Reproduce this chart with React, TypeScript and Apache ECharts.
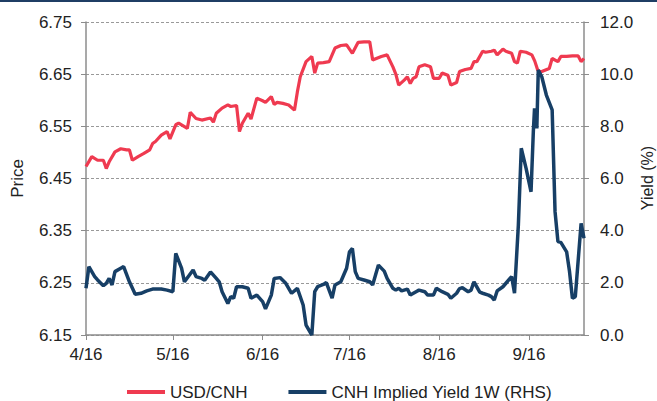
import React, { useEffect, useRef } from "react";
import * as echarts from "echarts";

const usdDates = [
  "2016-04-01", "2016-04-03", "2016-04-05", "2016-04-07", "2016-04-08", "2016-04-09", "2016-04-11", "2016-04-13",
  "2016-04-15", "2016-04-16", "2016-04-17", "2016-04-19", "2016-04-21", "2016-04-23", "2016-04-24", "2016-04-25",
  "2016-04-27", "2016-04-29", "2016-04-30", "2016-05-02", "2016-05-03", "2016-05-06", "2016-05-07", "2016-05-09",
  "2016-05-11", "2016-05-14", "2016-05-15", "2016-05-16", "2016-05-18", "2016-05-20", "2016-05-21", "2016-05-23",
  "2016-05-24", "2016-05-25", "2016-05-27", "2016-05-28", "2016-05-30", "2016-06-01", "2016-06-02", "2016-06-04",
  "2016-06-05", "2016-06-06", "2016-06-08", "2016-06-10", "2016-06-12", "2016-06-13", "2016-06-14", "2016-06-16",
  "2016-06-18", "2016-06-19", "2016-06-20", "2016-06-22", "2016-06-24", "2016-06-26", "2016-06-28", "2016-06-30",
  "2016-07-02", "2016-07-04", "2016-07-06", "2016-07-08", "2016-07-09", "2016-07-12", "2016-07-14", "2016-07-16",
  "2016-07-17", "2016-07-18", "2016-07-20", "2016-07-21", "2016-07-22", "2016-07-23", "2016-07-24", "2016-07-25",
  "2016-07-27", "2016-07-29", "2016-07-30", "2016-08-01", "2016-08-02", "2016-08-04", "2016-08-05", "2016-08-07",
  "2016-08-08", "2016-08-10", "2016-08-12", "2016-08-13", "2016-08-14", "2016-08-16", "2016-08-17", "2016-08-19",
  "2016-08-20", "2016-08-21", "2016-08-23", "2016-08-24", "2016-08-26", "2016-08-27", "2016-08-28", "2016-08-29",
  "2016-08-31", "2016-09-02", "2016-09-03", "2016-09-04", "2016-09-05", "2016-09-08", "2016-09-09", "2016-09-11",
  "2016-09-12", "2016-09-14", "2016-09-16", "2016-09-18", "2016-09-19", "2016-09-20",
];
const usdValues = [
  6.473, 6.492, 6.485, 6.485, 6.469, 6.482, 6.501, 6.507,
  6.505, 6.505, 6.485, 6.492, 6.498, 6.505, 6.517, 6.521,
  6.533, 6.540, 6.526, 6.553, 6.556, 6.546, 6.577, 6.565,
  6.562, 6.566, 6.558, 6.575, 6.585, 6.591, 6.588, 6.590,
  6.540, 6.556, 6.575, 6.564, 6.604, 6.599, 6.596, 6.607,
  6.592, 6.596, 6.594, 6.591, 6.581, 6.616, 6.645, 6.674,
  6.684, 6.652, 6.671, 6.672, 6.674, 6.700, 6.705, 6.706,
  6.690, 6.711, 6.712, 6.712, 6.677, 6.684, 6.687, 6.664,
  6.650, 6.629, 6.639, 6.645, 6.632, 6.642, 6.645, 6.664,
  6.668, 6.664, 6.642, 6.642, 6.652, 6.648, 6.629, 6.634,
  6.655, 6.659, 6.661, 6.674, 6.674, 6.694, 6.692, 6.694,
  6.696, 6.687, 6.698, 6.694, 6.690, 6.674, 6.671, 6.694,
  6.692, 6.687, 6.675, 6.658, 6.654, 6.661, 6.680, 6.674,
  6.684, 6.684, 6.685, 6.685, 6.674, 6.680,
];

const yieldDates = [
  "2016-04-01", "2016-04-02", "2016-04-04", "2016-04-05", "2016-04-07", "2016-04-08", "2016-04-09", "2016-04-10",
  "2016-04-11", "2016-04-13", "2016-04-14", "2016-04-16", "2016-04-18", "2016-04-20", "2016-04-22", "2016-04-24",
  "2016-04-27", "2016-04-29", "2016-05-01", "2016-05-02", "2016-05-04", "2016-05-05", "2016-05-08", "2016-05-09",
  "2016-05-11", "2016-05-12", "2016-05-14", "2016-05-16", "2016-05-17", "2016-05-18", "2016-05-20", "2016-05-21",
  "2016-05-22", "2016-05-23", "2016-05-25", "2016-05-27", "2016-05-28", "2016-05-30", "2016-06-01", "2016-06-02",
  "2016-06-04", "2016-06-05", "2016-06-07", "2016-06-09", "2016-06-11", "2016-06-13", "2016-06-15", "2016-06-16",
  "2016-06-18", "2016-06-19", "2016-06-20", "2016-06-22", "2016-06-23", "2016-06-25", "2016-06-26", "2016-06-28",
  "2016-06-29", "2016-06-30", "2016-07-01", "2016-07-02", "2016-07-03", "2016-07-04", "2016-07-06", "2016-07-08",
  "2016-07-09", "2016-07-10", "2016-07-11", "2016-07-13", "2016-07-14", "2016-07-16", "2016-07-17", "2016-07-18",
  "2016-07-19", "2016-07-21", "2016-07-22", "2016-07-24", "2016-07-25", "2016-07-27", "2016-07-28", "2016-07-30",
  "2016-07-31", "2016-08-02", "2016-08-04", "2016-08-05", "2016-08-07", "2016-08-08", "2016-08-09", "2016-08-11",
  "2016-08-12", "2016-08-13", "2016-08-15", "2016-08-16", "2016-08-18", "2016-08-19", "2016-08-20", "2016-08-21",
  "2016-08-23", "2016-08-25", "2016-08-26", "2016-08-27", "2016-08-28 08:00", "2016-08-29 08:00", "2016-08-31",
  "2016-09-01 17:00", "2016-09-02 12:00", "2016-09-02 22:00", "2016-09-03 17:00", "2016-09-04 05:00",
  "2016-09-05 10:00", "2016-09-07", "2016-09-09", "2016-09-10", "2016-09-11", "2016-09-12", "2016-09-14",
  "2016-09-15", "2016-09-16", "2016-09-17", "2016-09-19", "2016-09-20",
];
const yieldValues = [
  1.79, 2.62, 2.24, 2.11, 1.89, 1.98, 2.17, 1.92,
  2.43, 2.56, 2.62, 2.04, 1.56, 1.60, 1.69, 1.76,
  1.76, 1.72, 1.66, 3.13, 2.56, 2.04, 2.49, 2.24,
  2.17, 2.10, 2.42, 2.17, 2.04, 1.66, 1.21, 1.47,
  1.41, 1.85, 1.85, 1.79, 1.41, 1.53, 1.28, 1.00,
  1.53, 2.17, 2.20, 1.98, 1.60, 1.79, 1.15, 0.38,
  0.0, 1.66, 1.85, 1.94, 2.01, 1.41, 1.92, 2.04,
  2.30, 2.56, 3.19, 3.32, 2.43, 2.17, 2.11, 2.04,
  1.92, 2.30, 2.68, 2.45, 2.17, 1.79, 1.72, 1.79,
  1.69, 1.76, 1.53, 1.66, 1.72, 1.66, 1.53, 1.53,
  1.79, 1.66, 1.56, 1.41, 1.60, 1.78, 1.81, 1.66,
  1.72, 2.04, 1.64, 1.60, 1.53, 1.47, 1.34, 1.69,
  1.85, 2.11, 2.24, 1.60, 4.22, 7.16, 6.39,
  5.49, 7.80, 8.69, 7.92, 10.16,
  9.90, 9.20, 8.63, 4.73, 3.58, 3.55, 3.19,
  2.43, 1.41, 1.47, 4.28, 3.71,
];

const seriesNames = ["USD/CNH", "CNH Implied Yield 1W (RHS)"];
const seriesColors = ["#EF3A50", "#173F66"];
const priceRange = [6.15, 6.75];
const yieldRange = [0, 12, 2];
const axisNames = ["Price", "Yield (%)"];
const dateRange = ["2016-04-01", "2016-09-20"];

const FONT = "'Liberation Sans', Arial, sans-serif";

function parseLocal(s: string): number {
  const [y, m, d] = s.split("-").map(Number);
  return new Date(y, m - 1, d).getTime();
}

export default function App() {
  const ref = useRef<HTMLDivElement>(null);
  useEffect(() => {
    if (!ref.current) return;
    const chart = echarts.init(ref.current, undefined, { renderer: "svg" });
    const axisGray = "#8c8c8c";
    const labelStyle = { color: "#222", fontSize: 17, fontFamily: FONT };
    chart.setOption({
      animation: false,
      backgroundColor: "#fff",
      textStyle: { fontFamily: FONT },
      graphic: [
        { type: "rect", left: 0, top: 0, shape: { width: 657, height: 2 }, style: { fill: "#1F3E64" } },
        {
          type: "text",
          x: 647,
          y: 178,
          rotation: Math.PI / 2,
          style: {
            text: axisNames[1],
            fill: "#222",
            fontSize: 16,
            fontFamily: FONT,
            align: "center",
            verticalAlign: "middle",
          },
        },
      ],
      grid: { left: 86, right: 73, top: 22, bottom: 66, containLabel: false, outerBoundsMode: "none" },
      legend: {
        data: seriesNames,
        left: 127,
        top: 383,
        itemWidth: 38,
        itemHeight: 4,
        itemGap: 41,
        icon: "rect",
        padding: 0,
        textStyle: { color: "#222", fontSize: 17, fontFamily: FONT, lineHeight: 18 },
      },
      xAxis: {
        type: "time",
        min: parseLocal(dateRange[0]),
        max: parseLocal(dateRange[1]),
        splitNumber: 6,
        axisLine: { lineStyle: { color: axisGray, width: 1.5 } },
        axisTick: { show: true, length: 5, lineStyle: { color: axisGray } },
        splitLine: { show: false },
        axisLabel: {
          ...labelStyle,
          margin: 11,
          showMaxLabel: false,
          formatter: (val: number) => {
            const d = new Date(val);
            if (d.getDate() !== 1) return "";
            return `${d.getMonth() + 1}/16`;
          },
        },
      },
      yAxis: [
        {
          type: "value",
          position: "right",
          min: yieldRange[0],
          max: yieldRange[1],
          interval: yieldRange[2],
          axisLine: { show: true, lineStyle: { color: axisGray, width: 1.5 } },
          axisTick: { show: true, length: 5, lineStyle: { color: axisGray } },
          axisLabel: { ...labelStyle, margin: 16, formatter: (v: number) => v.toFixed(1) },
          splitLine: { show: true, lineStyle: { color: "#999", type: [3, 2], width: 1 } },
        },
        {
          type: "value",
          position: "left",
          min: priceRange[0],
          max: priceRange[1],
          alignTicks: true,
          name: axisNames[0],
          nameLocation: "middle",
          nameRotate: 90,
          nameGap: 60,
          nameTextStyle: { color: "#222", fontSize: 17, fontFamily: FONT },
          axisLine: { show: true, lineStyle: { color: axisGray, width: 1.5 } },
          axisTick: { show: true, length: 5, lineStyle: { color: axisGray } },
          axisLabel: { ...labelStyle, margin: 14, formatter: (v: number) => v.toFixed(2) },
          splitLine: { show: false },
        },
      ],
      series: [
        {
          name: seriesNames[0],
          type: "line",
          yAxisIndex: 1,
          data: usdDates.map((d, i) => [d, usdValues[i]]),
          showSymbol: false,
          symbol: "none",
          color: seriesColors[0],
          lineStyle: { color: seriesColors[0], width: 3.2 },
          z: 3,
        },
        {
          name: seriesNames[1],
          type: "line",
          yAxisIndex: 0,
          data: yieldDates.map((d, i) => [d, yieldValues[i]]),
          showSymbol: false,
          symbol: "none",
          color: seriesColors[1],
          lineStyle: { color: seriesColors[1], width: 3.5 },
          z: 4,
        },
      ],
    });
    return () => chart.dispose();
  }, []);
  return (
    <div
      ref={ref}
      style={{ position: "fixed", left: 0, top: 0, width: 657, height: 401, background: "#fff" }}
    />
  );
}
